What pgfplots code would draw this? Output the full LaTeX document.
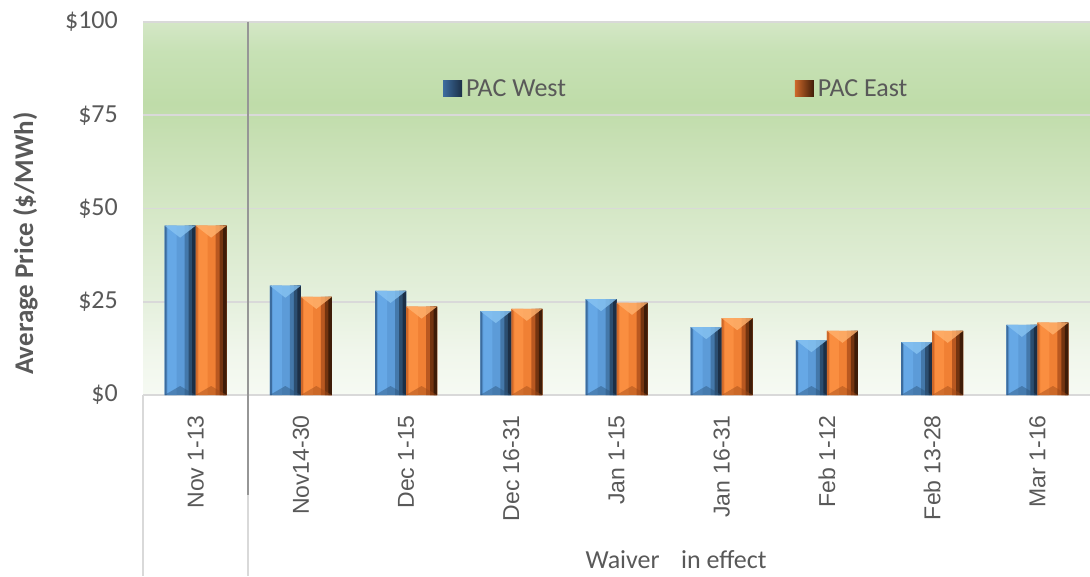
\documentclass[border=0pt]{standalone}
\usepackage{pgfplots}
\pgfplotsset{compat=1.18}
\usepackage{pgfplotstable}
\usepackage{fontspec}
\setmainfont{Carlito}
\newfontfamily\catfont{Liberation Sans}

% text and rule colours
\definecolor{labgray}{RGB}{89,89,89}
\definecolor{gridgray}{RGB}{217,217,217}
\definecolor{sepgray}{RGB}{150,150,150}

% plot-area background: pale at the bottom, strongest green near the top
\definecolor{bg0}{RGB}{246,250,243}
\definecolor{bg1}{RGB}{240,246,235}
\definecolor{bg2}{RGB}{229,240,221}
\definecolor{bg3}{RGB}{213,231,198}
\definecolor{bg4}{RGB}{198,223,178}
\definecolor{bg5}{RGB}{191,220,169}
\definecolor{bg6}{RGB}{199,225,181}
\definecolor{bg7}{RGB}{212,231,198}
\pgfdeclareverticalshading{plotbg}{100bp}{color(0bp)=(bg0); color(25bp)=(bg0);
  color(31bp)=(bg1); color(37.5bp)=(bg2); color(50bp)=(bg3); color(60bp)=(bg4);
  color(64bp)=(bg5); color(71bp)=(bg6); color(75bp)=(bg7); color(100bp)=(bg7)}

% bevelled bar faces: edge, lit face, highlight, shaded right side
\definecolor{bledge}{RGB}{60,108,158}
\definecolor{blface}{RGB}{92,155,216}
\definecolor{bllit}{RGB}{102,168,230}
\definecolor{blmid}{RGB}{68,120,170}
\definecolor{bldk}{RGB}{44,78,112}
\definecolor{bldkk}{RGB}{28,47,70}
\definecolor{oredge}{RGB}{205,104,42}
\definecolor{orface}{RGB}{240,128,52}
\definecolor{orlit}{RGB}{250,142,64}
\definecolor{ormid}{RGB}{185,88,32}
\definecolor{ordk}{RGB}{115,52,16}
\definecolor{ordkk}{RGB}{62,28,8}
\definecolor{bltop}{RGB}{135,195,242}
\definecolor{bldark}{RGB}{45,85,125}
\definecolor{ortop}{RGB}{255,178,110}
\definecolor{ordark}{RGB}{160,75,25}

% bevel facets at the top and foot of each bar
\pgfdeclareplotmark{bevtop}{%
  \pgfpathmoveto{\pgfqpoint{-15.5pt}{0pt}}%
  \pgfpathlineto{\pgfqpoint{15.5pt}{0pt}}%
  \pgfpathlineto{\pgfqpoint{0pt}{-12pt}}%
  \pgfpathclose\pgfusepathqfill}
\pgfdeclareplotmark{bevbot}{%
  \pgfpathmoveto{\pgfqpoint{-15.5pt}{0pt}}%
  \pgfpathlineto{\pgfqpoint{15.5pt}{0pt}}%
  \pgfpathlineto{\pgfqpoint{0pt}{9pt}}%
  \pgfpathclose\pgfusepathqfill}

% average price by period, $/MWh
\pgfplotstableread{
idx west east base
0 45.4 45.4 0
1 29.3 26.3 0
2 27.9 23.7 0
3 22.5 23.1 0
4 25.7 24.7 0
5 18.2 20.6 0
6 14.7 17.2 0
7 14.2 17.2 0
8 18.8 19.4 0
}\pricetable

\pgfplotsset{
  strip/.style n args={3}{ybar, bar width=#1, bar shift=#2, draw=none, fill=#3, forget plot},
}

\begin{document}
\begin{tikzpicture}
\useasboundingbox (0,0) rectangle (1090pt,576pt);
\begin{axis}[
  at={(143pt,181pt)}, anchor=south west,
  scale only axis, width=947pt, height=373pt,
  xmin=-0.5, xmax=8.5, ymin=0, ymax=100,
  axis line style={draw=none},
  axis background/.style={shade, shading=plotbg},
  xtick={0,...,8},
  xticklabels={Nov 1-13, Nov14-30, Dec 1-15, Dec 16-31, Jan 1-15, Jan 16-31, Feb 1-12, Feb 13-28, Mar 1-16},
  ytick={0,25,50,75,100},
  yticklabels={\$0,\$25,\$50,\$75,\$100},
  major tick length=0pt,
  tick style={draw=none},
  ymajorgrids, grid style={gridgray, line width=1.5pt},
  yticklabel style={font=\fontsize{26}{30}\selectfont, text=labgray, inner sep=0pt},
  yticklabel shift=25pt,
  xticklabel style={font=\catfont\fontsize{23}{27}\selectfont, text=labgray, rotate=90, anchor=east, inner sep=0pt},
  xticklabel shift=20pt,
  clip=false,
  legend columns=2,
  legend style={draw=none, fill=none, at={(0.3136,0.8217)}, anchor=west,
    font=\fontsize{26}{30}\selectfont, text=labgray,
    nodes={inner sep=0pt},
    /tikz/every odd column/.append style={column sep=4pt},
    /tikz/every even column/.append style={column sep=229pt}},
]
% separator between the first period and the waiver periods
\draw[sepgray, line width=2pt] (axis cs:0.5,100) -- (axis cs:0.5,-26.8);
\draw[gridgray, line width=1.5pt] (axis cs:0.5,-26.8) -- (axis cs:0.5,-48.5);
\draw[gridgray, line width=1.5pt] (axis cs:-0.5,0) -- (axis cs:-0.5,-48.5);

% PAC West: face, then edge and shaded strips of the same bars
\addplot[ybar, bar width=31pt, bar shift=-15.5pt, draw=none, fill=blface,
  legend image code/.code={\fill[left color=bledge, middle color=bllit, right color=bldkk] (0pt,-8pt) rectangle (19pt,8pt);}]
  table[x=idx, y=west] {\pricetable};
\addlegendentry{PAC West}
\addplot[ybar, bar width=31pt, bar shift=15.5pt, draw=none, fill=orface,
  legend image code/.code={\fill[left color=oredge, middle color=orlit, right color=ordkk] (0pt,-8pt) rectangle (19pt,8pt);}]
  table[x=idx, y=east] {\pricetable};
\addlegendentry{PAC East}

\addplot[strip={2pt}{-30pt}{bledge}] table[x=idx, y=west] {\pricetable};
\addplot[strip={9pt}{-23.5pt}{bllit}] table[x=idx, y=west] {\pricetable};
\addplot[strip={11pt}{-5.5pt}{blmid}] table[x=idx, y=west] {\pricetable};
\addplot[strip={7pt}{-3.5pt}{bldk}] table[x=idx, y=west] {\pricetable};
\addplot[strip={3.5pt}{-1.75pt}{bldkk}] table[x=idx, y=west] {\pricetable};

\addplot[strip={2pt}{1pt}{oredge}] table[x=idx, y=east] {\pricetable};
\addplot[strip={9pt}{7.5pt}{orlit}] table[x=idx, y=east] {\pricetable};
\addplot[strip={11pt}{25.5pt}{ormid}] table[x=idx, y=east] {\pricetable};
\addplot[strip={7pt}{27.5pt}{ordk}] table[x=idx, y=east] {\pricetable};
\addplot[strip={3.5pt}{29.25pt}{ordkk}] table[x=idx, y=east] {\pricetable};

\addplot[only marks, mark=bevtop, mark options={xshift=-15.5pt, fill=bltop, draw=none, fill opacity=0.8}, forget plot]
  table[x=idx, y=west] {\pricetable};
\addplot[only marks, mark=bevtop, mark options={xshift=15.5pt, fill=ortop, draw=none, fill opacity=0.8}, forget plot]
  table[x=idx, y=east] {\pricetable};
\addplot[only marks, mark=bevbot, mark options={xshift=-15.5pt, fill=bldark, draw=none, fill opacity=0.45}, forget plot]
  table[x=idx, y=base] {\pricetable};
\addplot[only marks, mark=bevbot, mark options={xshift=15.5pt, fill=ordark, draw=none, fill opacity=0.45}, forget plot]
  table[x=idx, y=base] {\pricetable};
\end{axis}
\node[rotate=90, anchor=base, font=\bfseries\fontsize{27}{32}\selectfont, text=labgray]
  at (33pt,332.5pt) {Average Price (\$/MWh)};
\node[anchor=base, font=\fontsize{26}{30}\selectfont, text=labgray]
  at (676pt,8pt) {Waiver\hspace{0.6em} in effect};
\end{tikzpicture}
\end{document}
